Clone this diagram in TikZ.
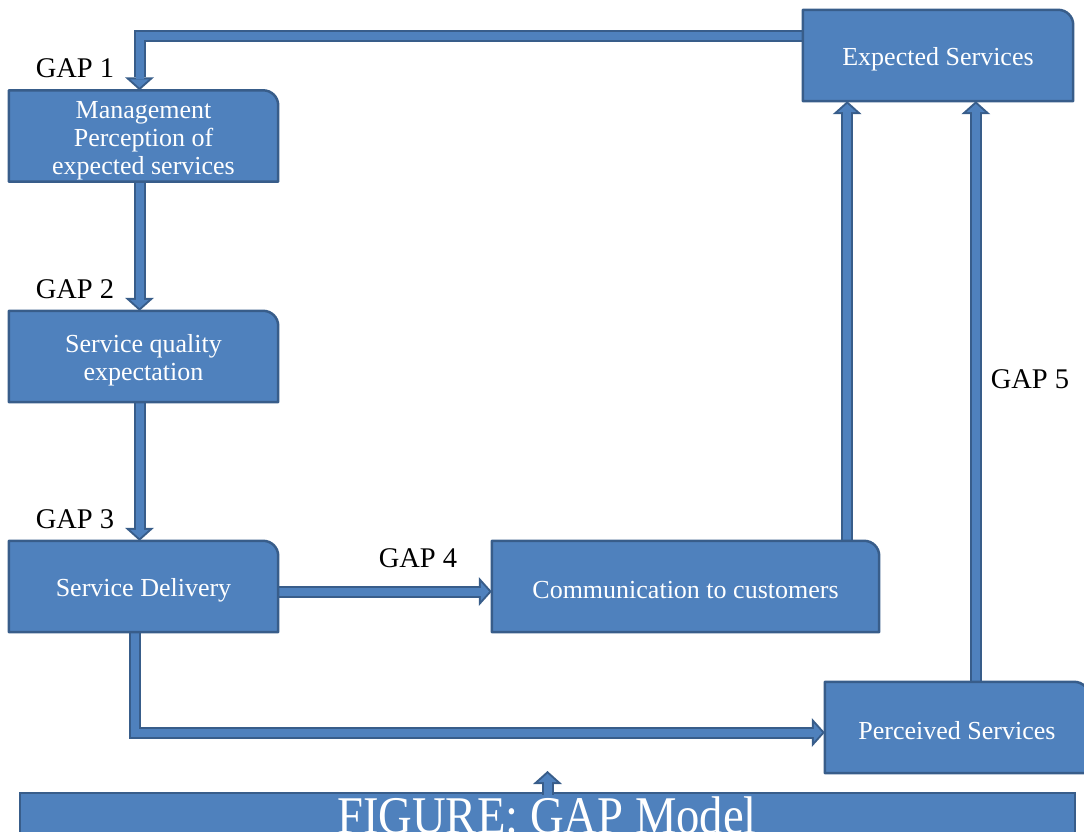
\documentclass[tikz,border=0pt]{standalone}
\usepackage{fontspec}
\setmainfont{Liberation Serif}
\usetikzlibrary{arrows.meta,backgrounds}

\definecolor{boxfill}{HTML}{4F81BD}
\definecolor{boxedge}{HTML}{385D8A}

\tikzset{
  gapbox/.style={rectangle, inner sep=0pt, minimum height=91},
  boxtext/.style={inner sep=0pt, text=white, align=center,
    font=\fontsize{26}{28}\selectfont},
  gaplabel/.style={inner sep=0pt, font=\fontsize{28.5}{32}\selectfont},
  boxshape/.style={fill=boxfill, draw=boxedge, line width=2.5pt, line join=round},
  figbar/.style={rectangle, fill=boxfill, draw=boxedge, line width=2pt,
    minimum width=1055, minimum height=88},
  figtext/.style={anchor=north, inner sep=0pt, text=white,
    font=\fontsize{53}{56}\selectfont},
  arrowout/.style={draw=boxedge, line width=12pt, line join=miter,
    -{Triangle[width=29pt,length=13pt,line width=0pt]}},
  arrowin/.style={draw=boxfill, line width=8pt, line join=miter, shorten >=2.7pt,
    -{Triangle[width=18.5pt,length=8.3pt,line width=0pt]}},
}
\newcommand{\gaparrow}[1]{\draw[arrowout] #1; \draw[arrowin] #1;}

\begin{document}
\begin{tikzpicture}[x=1pt, y=-1pt]
  \useasboundingbox (0,0) rectangle (1084,831);
  % boxes
  \node[gapbox, minimum width=269] (mgmt) at (143.5,136) {};
  \node[gapbox, minimum width=269] (sqe) at (143.5,356.5) {};
  \node[gapbox, minimum width=269] (sd) at (143.5,586.5) {};
  \node[gapbox, minimum width=387] (comm) at (685.5,586.5) {};
  \node[gapbox, minimum width=270] (es) at (938,55.5) {};
  \node[gapbox, minimum width=264] (ps) at (957,727.5) {};
  % box texts
  \node[boxtext] (mgmttext) at ([yshift=-5]mgmt.center) {Management\\Perception of\\expected services};
  \node[boxtext] (sqetext) at ([yshift=-4]sqe.center) {Service quality\\expectation};
  \node[boxtext] (sdtext) at ([yshift=-4]sd.center) {Service Delivery};
  \node[boxtext] (commtext) at ([yshift=-4]comm.center) {Communication to customers};
  \node[boxtext] (estext) at ([yshift=-4]es.center) {Expected Services};
  \node[boxtext] (pstext) at ([yshift=-3]ps.center) {Perceived Services};
  % gap labels
  \node[gaplabel] (gap1) at (75,68) {GAP 1};
  \node[gaplabel] (gap2) at (75,289) {GAP 2};
  \node[gaplabel] (gap3) at (75,519) {GAP 3};
  \node[gaplabel] (gap4) at (418,558) {GAP 4};
  \node[gaplabel] (gap5) at (1030,379) {GAP 5};
  \coordinate (c5) at ([xshift=-32]comm.north east);
  \coordinate (c7) at ([xshift=151]ps.north west);
  \begin{pgfonlayer}{background}
    \gaparrow{([yshift=-26]es.north west) -| ([xshift=-4]mgmt.north)}
    \gaparrow{([xshift=-4]mgmt.south) -- ([xshift=-4]sqe.north)}
    \gaparrow{([xshift=-4]sqe.south) -- ([xshift=-4]sd.north)}
    \gaparrow{([yshift=-5]sd.east) -- ([yshift=-5]comm.west)}
    \gaparrow{(c5) -- (c5 |- es.south)}
    \gaparrow{([xshift=-9]sd.south) |- ([yshift=-5]ps.west)}
    \gaparrow{(c7) -- (c7 |- es.south)}
    \foreach \b in {mgmt,sqe,sd,comm,es,ps}
      \draw[boxshape] (\b.south west) -- (\b.north west) -- ([xshift=-15]\b.north east)
        arc[start angle=90, end angle=0, radius=15pt] -- (\b.south east) -- cycle;
  \end{pgfonlayer}
  % caption bar
  \node[figbar] (fig) at (547.5,837) {};
  \coordinate (figtip) at ([yshift=21]fig.north);
  \gaparrow{([yshift=-3]fig.north) -- (figtip)}
  \node[figtext] (figlabel) at (547,797) {\scalebox{0.88}[1]{FIGURE: GAP Model}};
\end{tikzpicture}
\end{document}
